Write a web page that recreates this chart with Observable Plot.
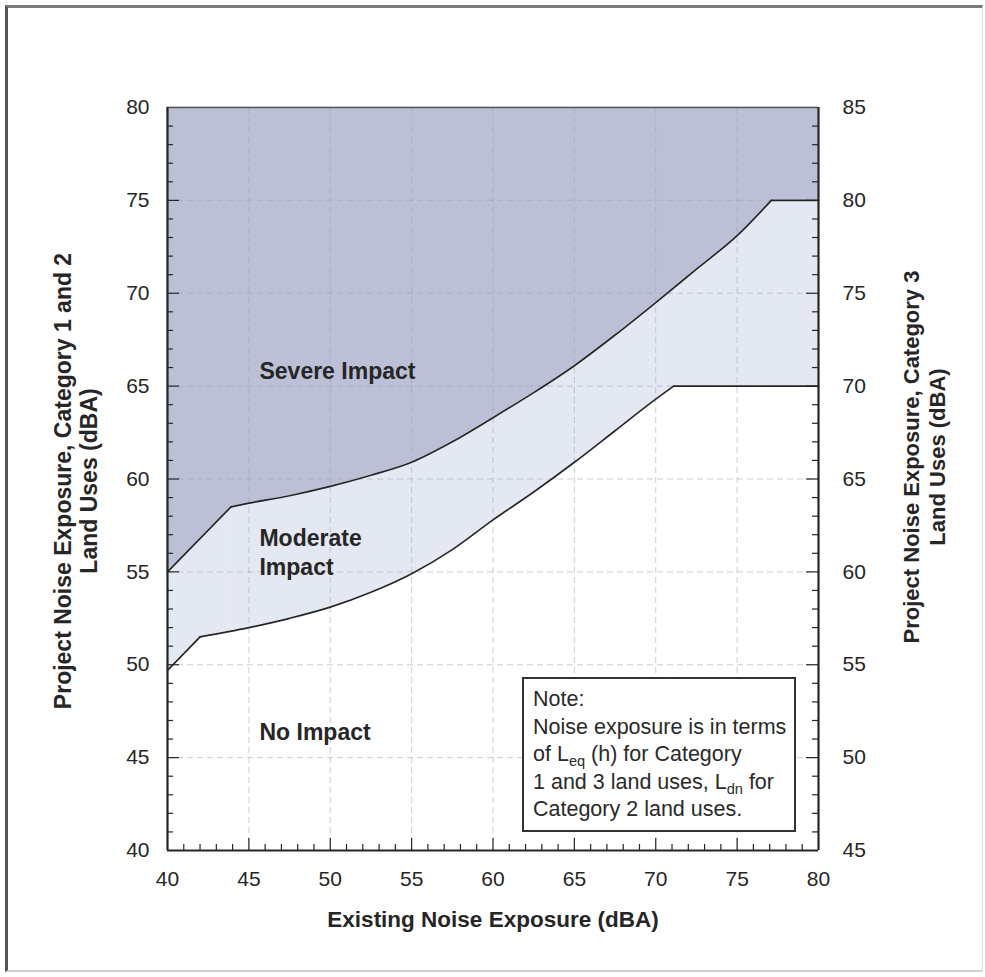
<!DOCTYPE html>
<html>
<head>
<meta charset="utf-8">
<script src="https://cdn.jsdelivr.net/npm/d3@7"></script>
<script src="https://cdn.jsdelivr.net/npm/@observablehq/plot@0.6"></script>
<style>
  html, body { margin: 0; padding: 0; background: #fff; }
  #wrap { position: relative; width: 985px; height: 977px; overflow: hidden; font-family: "Liberation Sans", Arial, sans-serif; }
  #border { position: absolute; left: 5px; top: 5px; right: 2px; bottom: 5px;
            border-left: 3px solid #555; border-top: 3px solid #7a7a7a;
            border-right: 1px solid #ddd; border-bottom: 2px solid #d0d0d0; pointer-events: none; }
  #note { position: absolute; left: 522px; top: 677px; width: 274px; height: 155px; box-sizing: border-box;
          border: 2px solid #333; background: #fff; padding: 7px 0 0 9px; font-size: 21.5px; line-height: 27.5px;
          color: #2a2a2a; white-space: nowrap; }
  #note sub { font-size: 0.68em; vertical-align: -0.35em; line-height: 0; }
</style>
</head>
<body>
<div id="wrap">
  <div id="chart"></div>
  <div id="note">Note:<br>Noise exposure is in terms<br>of L<sub>eq</sub> (h) for Category<br>1 and 3 land uses, L<sub>dn</sub> for<br>Category 2 land uses.</div>
  <div id="border"></div>
</div>
<script>
// ---- data ----
const xTicks = [40, 45, 50, 55, 60, 65, 70, 75, 80];
const yTicks = [40, 45, 50, 55, 60, 65, 70, 75, 80];
const rightAxisOffset = 5; // Category 3 axis = Category 1/2 axis + 5 dBA

// Severe impact threshold (boundary between moderate and severe)
const severeX = [40, 43.9, 45, 47.5, 50, 52.5, 55, 57.5, 60, 62.5, 65, 67.5, 70, 72.5, 75, 77.1, 80];
const severeY = [55, 58.5, 58.7, 59.1, 59.6, 60.2, 60.9, 62.0, 63.3, 64.65, 66.1, 67.75, 69.5, 71.3, 73.1, 75, 75];
const severeKinks = [1, 15]; // indices of sharp corners

// Moderate impact threshold (boundary between no impact and moderate)
const moderateX = [40, 42, 45, 47.5, 50, 52.5, 55, 57.5, 60, 62.5, 65, 67.5, 70, 71.1, 80];
const moderateY = [49.7, 51.5, 52.0, 52.5, 53.1, 53.9, 54.9, 56.2, 57.8, 59.3, 60.9, 62.6, 64.3, 65, 65];
const moderateKinks = [1, 13];

const regionNames = ["Severe Impact", "Moderate\nImpact", "No Impact"];
const regionX = [45.65, 45.65, 45.65];
const regionY = [65.9, 56.1, 46.45];

const xTitle = "Existing Noise Exposure (dBA)";
const leftTitle = "Project Noise Exposure, Category 1 and 2\nLand Uses (dBA)";
const rightTitle = "Project Noise Exposure, Category 3\nLand Uses (dBA)";

// ---- build ----
const W = 985, H = 977, ML = 167, MR = 167, MT = 107, MB = 127;
const FW = W - ML - MR, FH = H - MT - MB;

function segments(xs, ys, kinks) {
  const pts = xs.map((x, i) => ({x, y: ys[i]}));
  const [a, b] = kinks;
  return [
    {pts: pts.slice(0, a + 1), curve: "linear"},
    {pts: pts.slice(a, b + 1), curve: "monotone-x"},
    {pts: pts.slice(b), curve: "linear"}
  ];
}
const severeSegs = segments(severeX, severeY, severeKinks);
const moderateSegs = segments(moderateX, moderateY, moderateKinks);
const regions = regionNames.map((t, i) => ({t, x: regionX[i], y: regionY[i]}));
const minorTicks = d3.range(41, 80).filter(d => d % 5 !== 0);
const majorInner = xTicks.slice(1, -1);

const ink = "#262626";
const fillSevere = "#bcc0d7", fillModerate = "#e4e8f2";
const marks = [];
for (const s of severeSegs) {
  marks.push(Plot.areaY(s.pts, {x: "x", y1: 80, y2: "y", fill: fillSevere, curve: s.curve, stroke: fillSevere, strokeWidth: 0.6}));
  marks.push(Plot.areaY(s.pts, {x: "x", y1: 40, y2: "y", fill: fillModerate, curve: s.curve, stroke: fillModerate, strokeWidth: 0.6}));
}
for (const s of moderateSegs) {
  marks.push(Plot.areaY(s.pts, {x: "x", y1: 40, y2: "y", fill: "#ffffff", curve: s.curve, stroke: "#ffffff", strokeWidth: 0.6}));
}
marks.push(
  Plot.gridX(majorInner, {stroke: "#9a9eb0", strokeOpacity: 0.5, strokeDasharray: "6,4"}),
  Plot.gridY(majorInner, {stroke: "#9a9eb0", strokeOpacity: 0.5, strokeDasharray: "6,4"})
);
for (const s of [...severeSegs, ...moderateSegs]) {
  marks.push(Plot.line(s.pts, {x: "x", y: "y", stroke: ink, strokeWidth: 1.7, curve: s.curve}));
}
marks.push(
  // inward ticks
  Plot.tickY(minorTicks, {y: d => d, insetRight: FW - 6, stroke: ink, strokeWidth: 1.2}),
  Plot.tickY(majorInner, {y: d => d, insetRight: FW - 12, stroke: ink, strokeWidth: 1.2}),
  Plot.tickY(minorTicks, {y: d => d, insetLeft: FW - 6, stroke: ink, strokeWidth: 1.2}),
  Plot.tickY(majorInner, {y: d => d, insetLeft: FW - 12, stroke: ink, strokeWidth: 1.2}),
  Plot.tickX(minorTicks, {x: d => d, insetTop: FH - 6, stroke: ink, strokeWidth: 1.2}),
  Plot.tickX(majorInner, {x: d => d, insetTop: FH - 12, stroke: ink, strokeWidth: 1.2}),
  // frame
  Plot.ruleY([80], {stroke: "#555", strokeWidth: 1.5}),
  Plot.ruleY([40], {stroke: ink, strokeWidth: 2.2}),
  Plot.ruleX([40], {stroke: ink, strokeWidth: 2.2}),
  Plot.ruleX([80], {stroke: ink, strokeWidth: 2.2}),
  // tick labels
  Plot.axisX(xTicks, {tickSize: 0, tickPadding: 21, label: null, fontSize: 21}),
  Plot.axisY(yTicks, {anchor: "left", tickSize: 0, tickPadding: 18, label: null, fontSize: 21}),
  Plot.axisY(yTicks, {anchor: "right", tickSize: 0, tickPadding: 24, label: null, fontSize: 21, tickFormat: d => d + rightAxisOffset}),
  // titles
  Plot.text([xTitle], {text: d => d, frameAnchor: "bottom", dy: 76, textAnchor: "middle", fontWeight: "bold", fontSize: 22.5, fill: ink}),
  Plot.text([leftTitle], {text: d => d, frameAnchor: "left", dx: -92, dy: 2, textAnchor: "middle", lineAnchor: "middle", rotate: -90, fontWeight: "bold", fontSize: 23, lineHeight: 1.13, fill: ink}),
  Plot.text([rightTitle], {text: d => d, frameAnchor: "right", dx: 105, dy: -22, textAnchor: "middle", lineAnchor: "middle", rotate: -90, fontWeight: "bold", fontSize: 22, lineHeight: 1.18, fill: ink}),
  // region labels
  Plot.text(regions, {x: "x", y: "y", text: "t", textAnchor: "start", fontWeight: "bold", fontSize: 23, lineHeight: 1.26, fill: ink})
);

const chart = Plot.plot({
  width: W, height: H,
  marginLeft: ML, marginRight: MR, marginTop: MT, marginBottom: MB,
  x: {domain: [40, 80]},
  y: {domain: [40, 80]},
  style: {fontFamily: "'Liberation Sans', Arial, sans-serif", fontSize: "21px", color: ink, background: "transparent"},
  marks
});
document.getElementById("chart").appendChild(chart);
</script>
</body>
</html>
